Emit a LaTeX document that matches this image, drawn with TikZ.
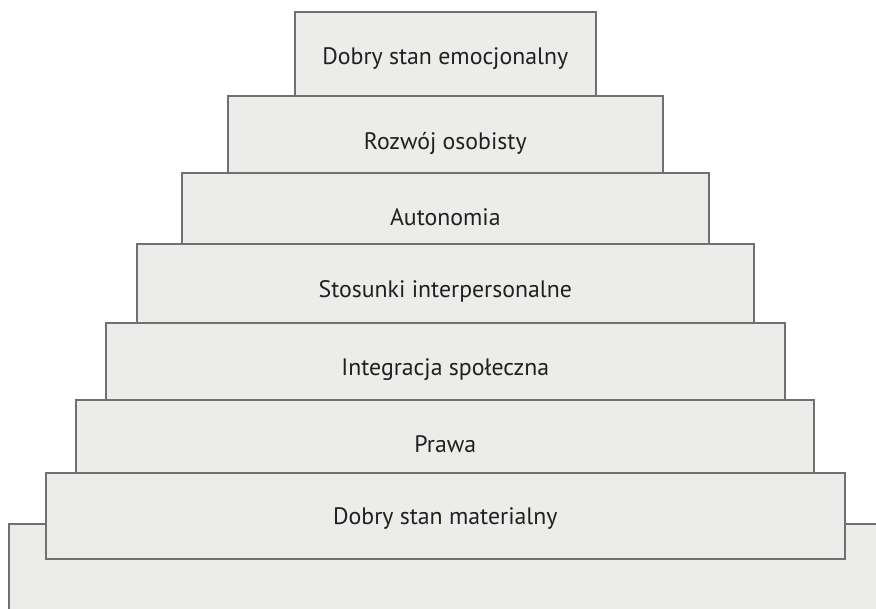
\documentclass[tikz,border=0pt]{standalone}
\usepackage{fontspec}
\setmainfont{PT Sans}
\definecolor{tierfill}{HTML}{ECECEA}
\definecolor{tierline}{HTML}{707070}
\definecolor{tiertext}{HTML}{231F20}
\begin{document}
\begin{tikzpicture}[x=1pt,y=-1pt,
  tier/.style={draw=tierline, line width=2pt, fill=tierfill, rectangle,
    inner sep=0pt, outer sep=0pt, anchor=north},
  tierlabel/.style={anchor=base, inner sep=0pt, text=tiertext,
    font=\fontsize{23.8}{28}\selectfont}]
\useasboundingbox (0,0) rectangle (876,609);
\clip (0,0) rectangle (876,609);
% base of the pyramid, partly outside the frame
\node[tier, minimum width=873.6pt, minimum height=96pt] (base) at (445.3,524.3) {};
% tiers from the top down; each lower tier overlaps the one above it
\node[tier, minimum width=300.5pt, minimum height=88pt] (t1) at (445.3,12) {};
\node[tier, minimum width=435pt,   minimum height=90pt] (t2) at (445.3,96) {};
\node[tier, minimum width=526.5pt, minimum height=90pt] (t3) at (445.3,173.5) {};
\node[tier, minimum width=617.5pt, minimum height=91pt] (t4) at (445.3,244.5) {};
\node[tier, minimum width=678.5pt, minimum height=90pt] (t5) at (445.3,323.3) {};
\node[tier, minimum width=738pt,   minimum height=89pt] (t6) at (445.3,400) {};
\node[tier, minimum width=799pt,   minimum height=86pt] (t7) at (445.3,473.3) {};
% labels
\node[tierlabel] (l1) at (445.3,64.3)  {Dobry stan emocjonalny};
\node[tierlabel] (l2) at (445.3,149.3) {Rozwój osobisty};
\node[tierlabel] (l3) at (445.3,225.7) {Autonomia};
\node[tierlabel] (l4) at (445.3,297.3) {Stosunki interpersonalne};
\node[tierlabel] (l5) at (445.3,375.7) {Integracja społeczna};
\node[tierlabel] (l6) at (445.3,452.3) {Prawa};
\node[tierlabel] (l7) at (445.3,525)   {Dobry stan materialny};
\end{tikzpicture}
\end{document}
